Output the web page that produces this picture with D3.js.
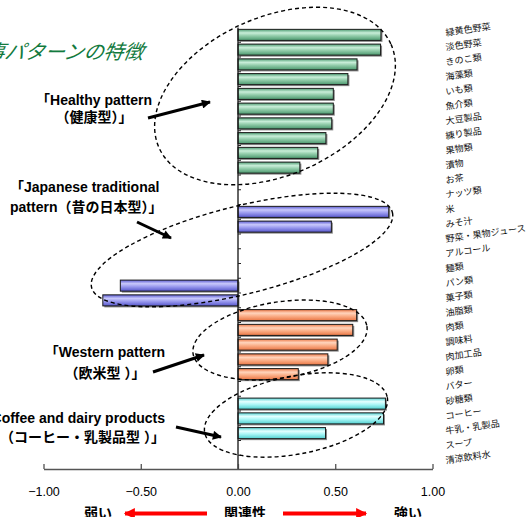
<!DOCTYPE html>
<html><head><meta charset="utf-8">
<script src="https://cdn.jsdelivr.net/npm/d3@7"></script>
<style>
html,body{margin:0;padding:0;background:#fff;overflow:hidden}
svg{display:block}
</style></head>
<body>
<svg id="chart" width="527" height="517"></svg>
<script>
// ---- data ----
const categories = ["緑黄色野菜","淡色野菜","きのこ類","海藻類","いも類","魚介類","大豆製品","練り製品","果物類","漬物",
  "お茶","ナッツ類","米","みそ汁","野菜・果物ジュース","アルコール","麺類","パン類","菓子類","油脂類",
  "肉類","調味料","肉加工品","卵類","バター","砂糖類","コーヒー","牛乳・乳製品","スープ","清涼飲料水"];
const values = [0.735,0.733,0.612,0.565,0.49,0.49,0.482,0.452,0.41,0.318,
  null,null,0.775,0.48,null,null,null,-0.605,-0.695,0.61,
  0.59,0.51,0.462,0.31,null,0.758,0.748,0.45,null,null];
const patterns = ["H","H","H","H","H","H","H","H","H","H",
  null,null,"J","J",null,null,null,"J","J","W",
  "W","W","W","W",null,"C","C","C",null,null];
const xTicks = [-1,-0.5,0,0.5,1];
const xTickLabels = ["\u22121.00","\u22120.50","0.00","0.50","1.00"];
const groupLabels = [
  {p:"H", lines:["「Healthy pattern","（健康型）」"]},
  {p:"J", lines:["「Japanese traditional","pattern（昔の日本型）」"]},
  {p:"W", lines:["「Western pattern","（欧米型 ）」"]},
  {p:"C", lines:["「Coffee and dairy products","pattern（コーヒー・乳製品型 ）」"]}
];
const titleText = "食事パターンの特徴";
const bottomLabels = ["弱い","関連性","強い"];

// ---- styles / layout ----
const colors = {
  H:["#4d9c72","#c9eed9","#93cdab","#4a976d"],
  J:["#5a5ad2","#c8c8fb","#9c9cef","#5656cc"],
  W:["#ee7846","#ffd4bc","#fbb08a","#ea7644"],
  C:["#52d2d2","#e4ffff","#aaf6f6","#50cfcf"]
};
const svg = d3.select("#chart");
const x = d3.scaleLinear().domain([-1,1]).range([43.5,432.5]);
const y = d3.scaleBand().domain(categories).range([27.5,470]).paddingInner(0.25).paddingOuter(0.125);
const font = "'Liberation Sans', Arial, 'Noto Sans CJK JP', sans-serif";

const defs = svg.append("defs");
Object.entries(colors).forEach(([k,c])=>{
  const g = defs.append("linearGradient").attr("id","g"+k).attr("x1",0).attr("x2",0).attr("y1",0).attr("y2",1);
  [[0,c[0]],[0.32,c[1]],[0.58,c[2]],[1,c[3]]].forEach(([o,col])=>g.append("stop").attr("offset",o).attr("stop-color",col));
});
const mk = (id,col,w,h)=>defs.append("marker").attr("id",id).attr("viewBox","0 0 10 10").attr("refX",9).attr("refY",5)
  .attr("markerWidth",w).attr("markerHeight",h).attr("markerUnits","userSpaceOnUse").attr("orient","auto")
  .append("path").attr("d","M0,0L10,5L0,10Z").attr("fill",col);
mk("ah","#000",11,9);
mk("ahr","#ff0000",12,11);

// title
svg.append("text").attr("x",143).attr("y",59).attr("text-anchor","end")
  .attr("font-family","'Noto Sans CJK JP', sans-serif").attr("font-size",20).attr("font-style","italic")
  .attr("fill","#127a3e").attr("transform","skewX(-10) translate(10,0)").text(titleText);

// bars
const data = categories.map((c,i)=>({c, v:values[i], p:patterns[i]})).filter(d=>d.v!==null);
const bx = d=>Math.min(x(0),x(d.v)), bw = d=>Math.abs(x(d.v)-x(0));
svg.append("g").selectAll("rect").data(data).join("rect")
  .attr("x",d=>bx(d)+1.5).attr("y",d=>y(d.c)+1.5).attr("width",bw).attr("height",y.bandwidth())
  .attr("fill","#8a8a8a");
svg.append("g").selectAll("rect").data(data).join("rect")
  .attr("x",bx).attr("y",d=>y(d.c)).attr("width",bw).attr("height",y.bandwidth())
  .attr("fill",d=>"url(#g"+d.p+")").attr("stroke","#1a1a1a").attr("stroke-width",1);

// vertical zero axis
svg.append("line").attr("x1",x(0)).attr("x2",x(0)).attr("y1",27.5).attr("y2",470)
  .attr("stroke","#111").attr("stroke-width",1.3);
// category boundary ticks
const bounds = categories.map(c=>y(c) - y.step()*y.paddingInner()/2).slice(1);
svg.append("g").selectAll("line").data(bounds).join("line")
  .attr("x1",x(0)).attr("x2",x(0)+3).attr("y1",d=>d).attr("y2",d=>d)
  .attr("stroke","#222").attr("stroke-width",1);

// x axis
const ax = svg.append("g").attr("transform","translate(0,469)")
  .call(d3.axisBottom(x).tickValues(xTicks).tickFormat((d,i)=>xTickLabels[i]).tickSizeInner(-5).tickSizeOuter(0).tickPadding(18.5));
ax.select(".domain").attr("stroke","#555").attr("stroke-width",1.5);
ax.selectAll(".tick line").attr("stroke","#444").attr("stroke-width",1.2);
ax.selectAll(".tick text").attr("font-family",font).attr("font-size",12.5).attr("fill","#000");

// right category labels (tilted)
svg.append("g").selectAll("text").data(categories).join("text")
  .attr("x",446).attr("y",d=>y(d)+y.bandwidth()/2+1)
  .attr("transform",d=>`rotate(-8,446,${y(d)+y.bandwidth()/2+1})`)
  .attr("font-family","'Noto Sans CJK JP', sans-serif").attr("font-size",9.1).attr("fill","#111").text(d=>d);

// dashed ellipses (group outlines)
const ellipses = [
  {p:"H", cx:275, cy:96, rx:127, ry:79, r:-24},
  {p:"J", cx:242, cy:250, rx:155, ry:44, r:-14},
  {p:"W", cx:280, cy:340, rx:88, ry:38, r:-9},
  {p:"C", cx:296, cy:415, rx:93, ry:39, r:-11}
];
svg.append("g").selectAll("ellipse").data(ellipses).join("ellipse")
  .attr("cx",d=>d.cx).attr("cy",d=>d.cy).attr("rx",d=>d.rx).attr("ry",d=>d.ry)
  .attr("transform",d=>`rotate(${d.r},${d.cx},${d.cy})`)
  .attr("fill","none").attr("stroke","#000").attr("stroke-width",1.4).attr("stroke-dasharray","4,3");

// group labels
const labelPos = {
  H:{x:94, a:"middle", y:[105,122]},
  J:{x:10, a:"start", y:[192,212]},
  W:{x:105, a:"middle", y:[357,378]},
  C:{x:165, a:"end", y:[423,442]}
};
groupLabels.forEach(g=>{
  const lp = labelPos[g.p];
  const t = svg.append("text").attr("font-family",font).attr("font-weight","bold").attr("font-size",14)
    .attr("fill","#000").attr("text-anchor",lp.a);
  g.lines.forEach((l,i)=>t.append("tspan").attr("x",lp.x).attr("y",lp.y[i]).text(l));
});
// group arrows
const arrows = [[148,118,210,102],[137,222,171,238],[153,372,204,355],[176,427,221,437]];
svg.append("g").selectAll("line").data(arrows).join("line")
  .attr("x1",d=>d[0]).attr("y1",d=>d[1]).attr("x2",d=>d[2]).attr("y2",d=>d[3])
  .attr("stroke","#000").attr("stroke-width",3).attr("marker-end","url(#ah)");

// bottom legend
const bl = svg.append("g").attr("font-family","'Noto Sans CJK JP', sans-serif").attr("font-weight","bold").attr("font-size",14).attr("text-anchor","middle");
[[98,bottomLabels[0]],[245,bottomLabels[1]],[408,bottomLabels[2]]].forEach(([px,t])=>bl.append("text").attr("x",px).attr("y",517.5).text(t));
[[207,125],[283,366]].forEach(([a,b])=>svg.append("line").attr("x1",a).attr("x2",b).attr("y1",513.5).attr("y2",513.5)
  .attr("stroke","#ff0000").attr("stroke-width",4).attr("marker-end","url(#ahr)"));
</script>
</body></html>
